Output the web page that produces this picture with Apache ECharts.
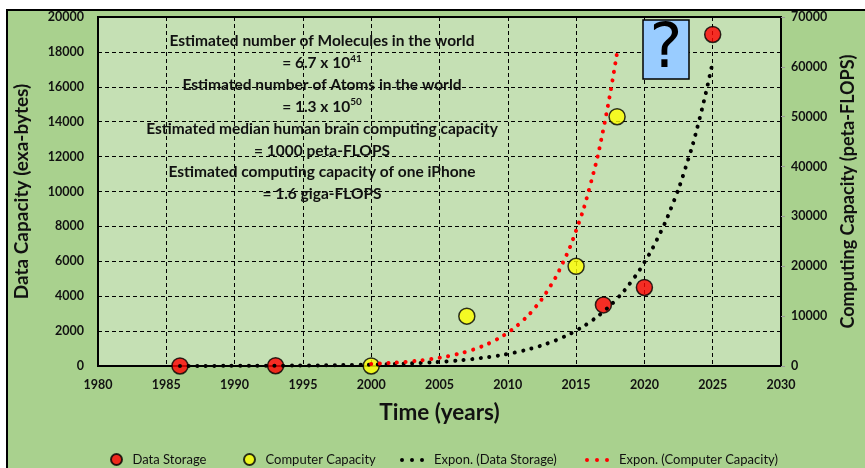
<!DOCTYPE html>
<html>
<head>
<meta charset="utf-8">
<script src="https://cdn.jsdelivr.net/npm/echarts@6/dist/echarts.min.js"></script>
<style>
  html, body { margin: 0; padding: 0; background: #fff; }
  #frame {
    position: absolute; left: 6px; top: 9px; width: 880px; height: 480px;
    box-sizing: border-box; background: #a9d18e; border: 2.5px solid #000;
  }
  #chart { position: absolute; left: 0; top: 0; width: 865px; height: 468px; }
</style>
</head>
<body>
<div id="frame"></div>
<div id="chart"></div>
<script>
// Measured data points
const storageYears  = [1986, 1993, 2017, 2020, 2025];
const storageValues = [3, 16, 3500, 4500, 19000];          // exa-bytes

const computeYears  = [2000, 2007, 2015, 2018];
const computeValues = [10, 10000, 20000, 50000];             // peta-FLOPS

// Exponential trendlines, sampled yearly
const storageTrendYears  = [1986,1987,1988,1989,1990,1991,1992,1993,1994,1995,1996,1997,1998,1999,2000,
                            2001,2002,2003,2004,2005,2006,2007,2008,2009,2010,2011,2012,2013,2014,2015,
                            2016,2017,2018,2019,2020,2021,2022,2023,2024,2025];
const storageTrendValues = [4,5,6,8,9,12,14,18,22,28,34,42,52,65,81,
                            100,124,154,190,236,293,363,450,558,692,858,1064,1320,1636,2029,
                            2515,3119,3867,4795,5945,7371,9139,11331,14049,17420];

const computeTrendYears  = [2000,2001,2002,2003,2004,2005,2006,2007,2008,2009,
                            2010,2011,2012,2013,2014,2015,2016,2017,2018];
const computeTrendValues = [407,539,713,944,1248,1652,2186,2892,3826,5062,
                            6698,8862,11725,15513,20525,27157,35931,47540,62900];

// Axis settings
const yearTicks = { min: 1980, max: 2030, interval: 5 };
const storageAxis = { min: 0, max: 20000, interval: 2000 };
const computeAxis = { min: 0, max: 70000, interval: 10000 };

// Annotation block
const noteLines = [
  'Estimated number of Molecules in the world',
  '= 6.7 x 10{sup|41}',
  'Estimated number of Atoms in the world',
  '= 1.3 x 10{sup|50}',
  'Estimated median human brain computing capacity',
  '= 1000 peta-FLOPS',
  'Estimated computing capacity of one iPhone',
  '= 1.6 giga-FLOPS'
];

const zip = (xs, ys) => xs.map((x, i) => [x, ys[i]]);
const plain = v => String(v);

const FONT = 'Lato, "Open Sans", sans-serif';
const dotsIcon = 'path://M0,2a2,2 0 1,0 4,0a2,2 0 1,0 -4,0Z M10,2a2,2 0 1,0 4,0a2,2 0 1,0 -4,0Z M20,2a2,2 0 1,0 4,0a2,2 0 1,0 -4,0Z';

const noteGraphics = noteLines.map((t, i) => ({
  type: 'text',
  x: 322,
  y: 41 + i * 21.9,
  z: 10,
  style: {
    text: t.indexOf('{sup|') >= 0 ? '{m|' + t.replace(/\{sup\|(\d+)\}/, '}{sup|$1}') : t,
    align: 'center',
    verticalAlign: 'middle',
    fontFamily: FONT,
    fontWeight: 'bold',
    fontSize: 15.5,
    fill: '#111',
    rich: {
      m: { fontFamily: FONT, fontWeight: 'bold', fontSize: 15.5, fill: '#111', lineHeight: 19 },
      sup: { fontFamily: FONT, fontWeight: 'bold', fontSize: 10, fill: '#111', verticalAlign: 'top', lineHeight: 19, padding: [0, 0, 6, 0] }
    }
  }
}));

const legendBase = {
  orient: 'horizontal',
  itemGap: 0,
  padding: 0,
  selectedMode: false,
  textStyle: { fontFamily: FONT, fontSize: 13, color: '#111' }
};

const option = {
  animation: false,
  backgroundColor: 'transparent',
  grid: {
    left: 98, right: 84, top: 17, bottom: 102,
    show: true,
    backgroundColor: '#c5e0b4',
    borderColor: '#000',
    borderWidth: 2
  },
  xAxis: {
    type: 'value',
    min: yearTicks.min, max: yearTicks.max, interval: yearTicks.interval,
    name: 'Time (years)',
    nameLocation: 'middle',
    nameGap: 35,
    nameTextStyle: { fontFamily: FONT, fontWeight: 'bold', fontSize: 22.5, color: '#111' },
    axisLine: { show: true, lineStyle: { color: '#000', width: 2 } },
    axisTick: { show: false },
    axisLabel: { margin: 12, formatter: plain, fontFamily: FONT, fontWeight: 'bold', fontSize: 12.5, color: '#111' },
    splitLine: { show: true, lineStyle: { color: '#000', width: 1, type: [4, 3] } }
  },
  yAxis: [
    {
      type: 'value',
      position: 'left',
      min: storageAxis.min, max: storageAxis.max, interval: storageAxis.interval,
      name: 'Data Capacity (exa-bytes)',
      nameLocation: 'middle',
      nameGap: 67,
      nameRotate: 90,
      nameTextStyle: { fontFamily: FONT, fontWeight: 'bold', fontSize: 19, color: '#111' },
      axisLine: { show: true, lineStyle: { color: '#000', width: 2 } },
      axisTick: { show: false },
      axisLabel: { margin: 14, formatter: plain, fontFamily: FONT, fontWeight: 'bold', fontSize: 12.5, color: '#111' },
      splitLine: { show: true, lineStyle: { color: '#000', width: 1, type: [4, 3] } }
    },
    {
      type: 'value',
      position: 'right',
      min: computeAxis.min, max: computeAxis.max, interval: computeAxis.interval,
      name: 'Computing Capacity (peta-FLOPS)',
      nameLocation: 'middle',
      nameGap: 58,
      nameRotate: 90,
      nameTextStyle: { fontFamily: FONT, fontWeight: 'bold', fontSize: 18, color: '#111' },
      axisLine: { show: true, lineStyle: { color: '#000', width: 2 } },
      axisTick: { show: true, length: 4, lineStyle: { color: '#999', width: 1 } },
      axisLabel: { margin: 10, formatter: plain, fontFamily: FONT, fontWeight: 'bold', fontSize: 12.5, color: '#111' },
      splitLine: { show: false }
    }
  ],
  legend: [
    Object.assign({}, legendBase, { left: 110, top: 453, itemWidth: 22, itemHeight: 11,
      data: [{ name: 'Data Storage', icon: 'circle' }] }),
    Object.assign({}, legendBase, { left: 243, top: 453, itemWidth: 22, itemHeight: 11,
      data: [{ name: 'Computer Capacity', icon: 'circle' }] }),
    Object.assign({}, legendBase, { left: 400, top: 453.5, itemWidth: 24, itemHeight: 4,
      textStyle: Object.assign({}, legendBase.textStyle, { padding: [0, 0, 0, 5] }),
      data: [{ name: 'Expon. (Data Storage)', icon: dotsIcon }] }),
    Object.assign({}, legendBase, { left: 585, top: 453.5, itemWidth: 24, itemHeight: 4,
      textStyle: Object.assign({}, legendBase.textStyle, { padding: [0, 0, 0, 5] }),
      data: [{ name: 'Expon. (Computer Capacity)', icon: dotsIcon }] })
  ],
  graphic: noteGraphics.concat([
    {
      type: 'rect',
      shape: { x: 643, y: 20, width: 46, height: 59 },
      style: { fill: '#99ccff', stroke: '#000', lineWidth: 1.5 },
      z: 10
    },
    {
      type: 'text',
      x: 666, y: 51,
      z: 11,
      style: {
        text: '?', align: 'center', verticalAlign: 'middle',
        fontFamily: '"DejaVu Sans", sans-serif', fontSize: 62, fill: '#000'
      }
    }
  ]),
  series: [
    {
      name: 'Data Storage',
      type: 'scatter',
      yAxisIndex: 0,
      data: zip(storageYears, storageValues),
      symbol: 'circle',
      symbolSize: 16,
      itemStyle: { color: '#ff0000', borderColor: '#000', borderWidth: 1.5 },
      z: 3
    },
    {
      name: 'Computer Capacity',
      type: 'scatter',
      yAxisIndex: 1,
      data: zip(computeYears, computeValues),
      symbol: 'circle',
      symbolSize: 16,
      itemStyle: { color: '#ffff00', borderColor: '#000', borderWidth: 1.5 },
      z: 3
    },
    {
      name: 'Expon. (Data Storage)',
      type: 'line',
      yAxisIndex: 0,
      data: zip(storageTrendYears, storageTrendValues),
      showSymbol: false,
      symbol: 'none',
      smooth: true,
      color: '#000',
      lineStyle: { color: '#000', width: 4, type: [0.1, 8.5], cap: 'round' },
      z: 5
    },
    {
      name: 'Expon. (Computer Capacity)',
      type: 'line',
      yAxisIndex: 1,
      data: zip(computeTrendYears, computeTrendValues),
      showSymbol: false,
      symbol: 'none',
      smooth: true,
      color: '#ff0000',
      lineStyle: { color: '#ff0000', width: 4, type: [0.1, 8.5], cap: 'round' },
      z: 5
    }
  ]
};

const chart = echarts.init(document.getElementById('chart'), null, { renderer: 'canvas' });
chart.setOption(option);
</script>
</body>
</html>
